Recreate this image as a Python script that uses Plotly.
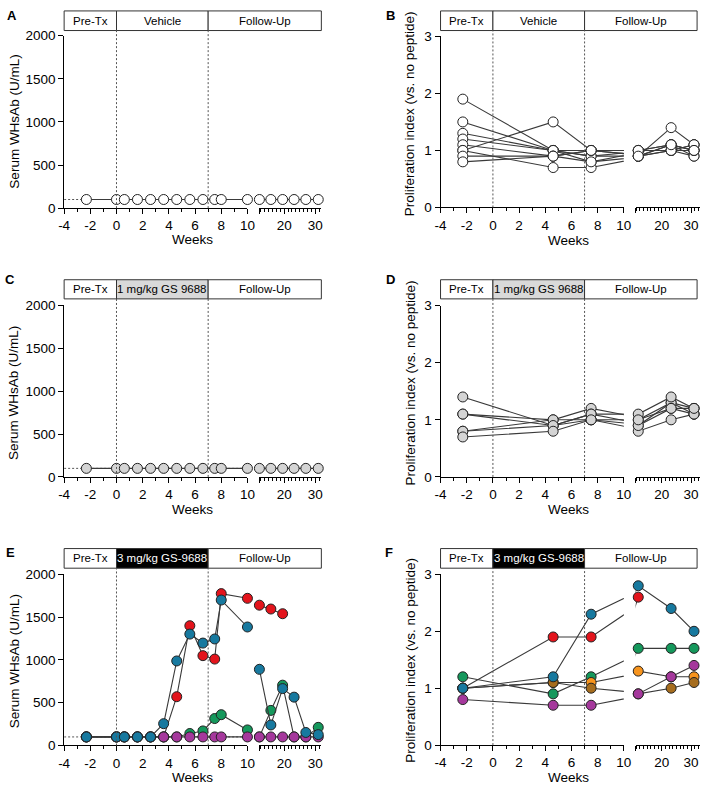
import plotly.graph_objects as go

W, H = 709, 794
FONT = "Liberation Sans, Arial, sans-serif"

# ---------------- data ----------------
serum_weeks = [-2.3, 0, 0.6, 1.6, 2.6, 3.6, 4.6, 5.6, 6.6, 7.5, 8, 10, 12, 15.7, 19.5, 23.2, 27, 31]
prolif_weeks = [-2.3, 4.6, 7.5, 12, 23.2, 31]

# Panel A: vehicle serum WHsAb (U/mL)
vehicle_serum = [100, 100, 100, 100, 100, 100, 100, 100, 100, 100, 100, 100, 100, 100, 100, 100, 100, 100]
# Panel C: 1 mg/kg serum WHsAb
low_serum = [100, 100, 100, 100, 100, 100, 100, 100, 100, 100, 100, 100, 100, 100, 100, 100, 100, 100]
# Panel E: 3 mg/kg serum WHsAb, per animal
high_serum_red = [100, 100, 100, 100, 100, 100, 570, 1400, 1050, 1010, 1775, 1720, 1640, 1595, 1540, None, None, None]
high_serum_green = [100, 100, 100, 100, 100, 100, 100, 140, 170, 315, 360, 182, 100, 410, 705, 100, 100, 212]
high_serum_purple = [100, 100, 100, 100, 100, 100, 100, 100, 100, 100, 100, 100, 100, 100, 100, 100, 100, 100]
high_serum_blue = [100, 100, 100, 100, 100, 255, 988, 1302, 1197, 1245, 1700, 1385, 890, 240, 665, 565, 152, 127]

# Panel B: vehicle proliferation index, per animal
vehicle_prolif = [
    [1.9, 1.0, 0.9, 0.9, 1.4, 1.1],
    [1.5, 1.0, 1.0, 1.0, 1.1, 1.0],
    [1.3, 1.0, 0.8, 0.9, 1.0, 1.1],
    [1.2, 1.0, 0.9, 1.0, 1.0, 0.9],
    [1.1, 0.9, 1.0, 0.9, 1.1, 0.9],
    [1.0, 1.5, 1.0, 1.0, 1.1, 1.0],
    [1.0, 0.7, 0.7, 0.9, 1.0, 1.1],
    [0.9, 0.9, 0.8, 1.0, 1.0, 1.0],
    [0.8, 0.9, 1.0, 0.9, 1.1, 1.0],
]
# Panel D: 1 mg/kg proliferation index, per animal
low_prolif = [
    [1.4, 0.9, 1.0, 0.9, 1.3, 1.1],
    [1.1, 1.0, 1.2, 1.0, 1.3, 1.2],
    [1.1, 0.9, 1.1, 1.1, 1.4, 1.2],
    [0.8, 1.0, 1.0, 0.8, 1.0, 1.1],
    [0.8, 0.9, 1.1, 0.9, 1.2, 1.1],
    [0.7, 0.8, 1.0, 1.0, 1.2, 1.2],
]
# Panel F: 3 mg/kg proliferation index, per animal
high_prolif_red = [1.0, 1.9, 1.9, 2.6, None, None]
high_prolif_green = [1.2, 0.9, 1.2, 1.7, 1.7, 1.7]
high_prolif_orange = [1.0, 1.1, 1.1, 1.3, 1.2, 1.2]
high_prolif_brown = [1.0, 1.1, 1.0, 0.9, 1.0, 1.1]
high_prolif_purple = [0.8, 0.7, 0.7, 0.9, 1.2, 1.4]
high_prolif_blue = [1.0, 1.2, 2.3, 2.8, 2.4, 2.0]

x_left_ticks = [-4, -2, 0, 2, 4, 6, 8, 10]
x_left_labels = ["-4", "-2", "0", "2", "4", "6", "8", "10"]
x_right_ticks = [20, 30]
x_right_labels = ["20", "30"]
serum_ticks = [0, 500, 1000, 1500, 2000]
prolif_ticks = [0, 1, 2, 3]

phase_labels = ["Pre-Tx", "Follow-Up"]
middle_labels = ["Vehicle", "1 mg/kg GS 9688", "3 mg/kg GS-9688"]

# ---------------- colours ----------------
RED, GREEN, PURPLE, BLUE = "#e3141c", "#15985c", "#a5389c", "#17799f"
ORANGE, BROWN = "#f7941d", "#a66d1e"
LINE = "#3a3a3a"

# ---------------- layout geometry (pixels) ----------------
LEFT_COL = dict(lx0=59.3, lx1=246.3, rx0=258.5, rx1=321.7, rrange=[12, 32], hright=321.7, ytitle_x=8.3)
RIGHT_COL = dict(lx0=443.3, lx1=630.3, rx0=642.3, rx1=708, rrange=[11.1, 33.05], hright=705, ytitle_x=412.5)
panels = [
    dict(letter="A", col=LEFT_COL, top=29.3, bot=205, htop=4, hbot=24, let_xy=(6.3, 8.7), kind="serum", fill="white", tcol="black", mid=0, ytc=116.7, wy=237.3),
    dict(letter="B", col=RIGHT_COL, top=30, bot=204.3, htop=4, hbot=24, let_xy=(392, 8.5), kind="prolif", fill="white", tcol="black", mid=0, ytc=109, wy=238.3),
    dict(letter="C", col=LEFT_COL, top=304, bot=479, htop=278, hbot=297.5, let_xy=(4.5, 278), kind="serum", fill="#d9d9d9", tcol="black", mid=1, ytc=393.3, wy=511.7),
    dict(letter="D", col=RIGHT_COL, top=304.3, bot=479, htop=278, hbot=297.5, let_xy=(392, 278), kind="prolif", fill="#d9d9d9", tcol="black", mid=1, ytc=383.3, wy=511.7),
    dict(letter="E", col=LEFT_COL, top=578.3, bot=752.7, htop=552, hbot=572, let_xy=(4.5, 556), kind="serum", fill="black", tcol="white", mid=2, ytc=666.7, wy=785),
    dict(letter="F", col=RIGHT_COL, top=578.3, bot=752.3, htop=552, hbot=572, let_xy=(391, 556), kind="prolif", fill="black", tcol="white", mid=2, ytc=666, wy=785),
]


def PX(px):
    return px / W


def PY(py):
    return 1 - py / H


def xname(n):
    return "x" if n == 1 else f"x{n}"


def xkey(n):
    return "xaxis" if n == 1 else f"xaxis{n}"


def yname(n):
    return "y" if n == 1 else f"y{n}"


def ykey(n):
    return "yaxis" if n == 1 else f"yaxis{n}"


fig = go.Figure()
shapes, annotations = [], []
layout_axes = {}

axis_common = dict(showline=True, linecolor="black", linewidth=1, showgrid=False, zeroline=False,
                   ticks="outside", tickcolor="black", tickwidth=1, ticklen=5,
                   tickfont=dict(family=FONT, size=13.5, color="black"), fixedrange=True)

for i, p in enumerate(panels):
    c = p["col"]
    nl, nr, ny = 2 * i + 1, 2 * i + 2, i + 1
    ymax = 2000 if p["kind"] == "serum" else 3
    layout_axes[xkey(nl)] = dict(axis_common, domain=[PX(c["lx0"]), PX(c["lx1"])], range=[-4, 10],
                                 anchor=yname(ny), tickmode="array", tickvals=x_left_ticks,
                                 ticktext=x_left_labels,
                                 minor=dict(tickmode="linear", tick0=-4, dtick=1, ticks="outside",
                                            ticklen=3, tickcolor="black", showgrid=False))
    layout_axes[xkey(nr)] = dict(axis_common, domain=[PX(c["rx0"]), PX(c["rx1"])], range=c["rrange"],
                                 anchor=yname(ny), tickmode="array",
                                 tickvals=[c["rrange"][0]] + x_right_ticks,
                                 ticktext=[""] + x_right_labels,
                                 minor=dict(tickmode="linear", tick0=0, dtick=1.25, ticks="outside",
                                            ticklen=3, tickcolor="black", showgrid=False))
    layout_axes[ykey(ny)] = dict(axis_common, domain=[PY(p["bot"]), PY(p["top"])], range=[0, ymax],
                                 anchor=xname(nl), tickmode="array",
                                 tickvals=serum_ticks if p["kind"] == "serum" else prolif_ticks)

    # header box
    s = (c["lx1"] - c["lx0"]) / 14.0
    xa = c["lx0"] + 4 * s
    xb = c["lx0"] + 11 * s
    segs = [(c["lx0"], xa, "white", phase_labels[0], "black"),
            (xa, xb, p["fill"], middle_labels[p["mid"]], p["tcol"]),
            (xb, c["hright"], "white", phase_labels[1], "black")]
    for (a, b, fc, txt, tc) in segs:
        shapes.append(dict(type="rect", xref="paper", yref="paper", x0=PX(a), x1=PX(b),
                           y0=PY(p["hbot"]), y1=PY(p["htop"]), fillcolor=fc,
                           line=dict(color="#333333", width=1)))
        annotations.append(dict(text=txt, xref="paper", yref="paper", x=PX((a + b) / 2),
                                y=PY((p["htop"] + p["hbot"]) / 2), showarrow=False,
                                xanchor="center", yanchor="middle",
                                font=dict(family=FONT, size=11.5, color=tc)))
    # dotted phase lines
    for xv in (0, 7):
        shapes.append(dict(type="line", xref=xname(nl), yref="paper", x0=xv, x1=xv,
                           y0=PY(p["bot"]), y1=PY(p["hbot"]),
                           line=dict(color="#555555", width=1, dash="2px,2px")))
    # limit-of-detection line
    if p["kind"] == "serum":
        shapes.append(dict(type="line", xref=xname(nl), yref=yname(ny), x0=-4, x1=10, y0=100, y1=100,
                           layer="below", line=dict(color="#555555", width=1, dash="2px,2px")))
    # letter
    annotations.append(dict(text=f"<b>{p['letter']}</b>", xref="paper", yref="paper",
                            x=PX(p["let_xy"][0]), y=PY(p["let_xy"][1]), showarrow=False,
                            xanchor="center", yanchor="middle",
                            font=dict(family=FONT, size=13, color="black")))
    # y title
    ytitle = "Serum WHsAb (U/mL)" if p["kind"] == "serum" else "Proliferation index (vs. no peptide)"
    annotations.append(dict(text=ytitle, xref="paper", yref="paper", x=PX(c["ytitle_x"]),
                            y=PY(p["ytc"]), textangle=-90, showarrow=False,
                            xanchor="center", yanchor="middle",
                            font=dict(family=FONT, size=13.5, color="black")))
    # x title
    annotations.append(dict(text="Weeks", xref="paper", yref="paper",
                            x=PX((c["lx0"] + c["rx1"]) / 2 if p["kind"] == "serum" else 574),
                            y=PY(p["wy"]), showarrow=False, xanchor="center", yanchor="middle",
                            font=dict(family=FONT, size=13.5, color="black")))


def add_series(i, weeks, values, color):
    p = panels[i]
    c = p["col"]
    nl, nr, ny = 2 * i + 1, 2 * i + 2, i + 1
    for n, keep in ((nl, lambda w: w <= 10), (nr, lambda w: w >= c["rrange"][0])):
        fig.add_trace(go.Scatter(x=weeks, y=values, mode="lines", xaxis=xname(n), yaxis=yname(ny),
                                 line=dict(color=LINE, width=1.1), hoverinfo="skip", showlegend=False))
        mx = [w for w, v in zip(weeks, values) if v is not None and keep(w)]
        my = [v for w, v in zip(weeks, values) if v is not None and keep(w)]
        fig.add_trace(go.Scatter(x=mx, y=my, mode="markers", xaxis=xname(n), yaxis=yname(ny),
                                 cliponaxis=False,
                                 marker=dict(size=10, color=color, line=dict(color="#222222", width=1)),
                                 showlegend=False))


# Panel A
add_series(0, serum_weeks, vehicle_serum, "white")
# Panel B
for animal in vehicle_prolif:
    add_series(1, prolif_weeks, animal, "white")
# Panel C
add_series(2, serum_weeks, low_serum, "#d4d4d4")
# Panel D
for animal in low_prolif:
    add_series(3, prolif_weeks, animal, "#d4d4d4")
# Panel E
add_series(4, serum_weeks, high_serum_red, RED)
add_series(4, serum_weeks, high_serum_green, GREEN)
add_series(4, serum_weeks, high_serum_purple, PURPLE)
add_series(4, serum_weeks, high_serum_blue, BLUE)
# Panel F
add_series(5, prolif_weeks, high_prolif_red, RED)
add_series(5, prolif_weeks, high_prolif_green, GREEN)
add_series(5, prolif_weeks, high_prolif_orange, ORANGE)
add_series(5, prolif_weeks, high_prolif_brown, BROWN)
add_series(5, prolif_weeks, high_prolif_purple, PURPLE)
add_series(5, prolif_weeks, high_prolif_blue, BLUE)

fig.update_layout(width=W, height=H, margin=dict(l=0, r=0, t=0, b=0, pad=0),
                  paper_bgcolor="white", plot_bgcolor="white", showlegend=False,
                  font=dict(family=FONT, color="black"),
                  shapes=shapes, annotations=annotations, **layout_axes)

fig.write_html("out.html", config={"displayModeBar": False},
               post_script="document.body.style.margin='0';document.body.style.padding='0';document.body.style.overflow='hidden';")
